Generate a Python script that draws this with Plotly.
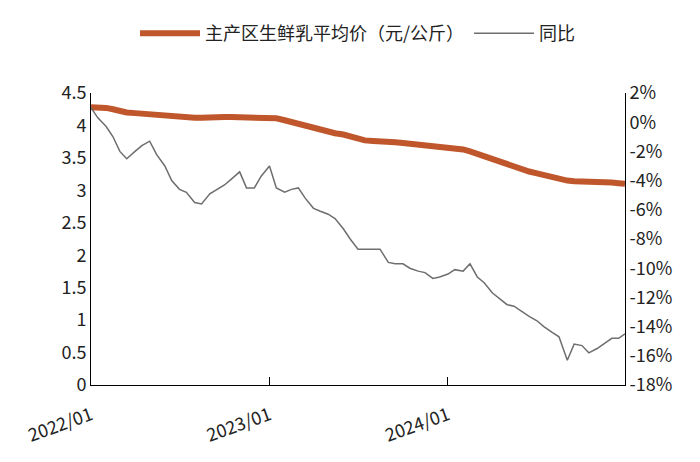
import pandas as pd
import plotly.graph_objects as go

# half-monthly sample dates
dates = pd.date_range("2022-01-01", periods=72, freq="SMS").tolist() + [pd.Timestamp("2024-12-28")]

# 主产区生鲜乳平均价 (元/公斤)
price = [4.28, 4.28, 4.27, 4.25, 4.22, 4.20, 4.19, 4.18, 4.17, 4.16,
         4.15, 4.14, 4.13, 4.13, 4.12, 4.12, 4.13, 4.13, 4.13, 4.13,
         4.13, 4.13, 4.12, 4.12, 4.12, 4.11, 4.08, 4.05, 4.02, 4.00,
         3.96, 3.93, 3.90, 3.88, 3.86, 3.83, 3.80, 3.77, 3.76, 3.76,
         3.75, 3.74, 3.73, 3.72, 3.71, 3.70, 3.69, 3.68, 3.66, 3.65,
         3.63, 3.60, 3.56, 3.52, 3.48, 3.44, 3.40, 3.36, 3.33, 3.29,
         3.26, 3.23, 3.21, 3.18, 3.15, 3.14, 3.14, 3.13, 3.13, 3.12,
         3.12, 3.11, 3.10]

# 同比 (%)
yoy = [1.0, 0.3, -0.3, -1.0, -2.0, -2.5, -2.0, -1.6, -1.3, -2.2,
       -3.0, -4.0, -4.6, -4.8, -5.5, -5.6, -4.9, -4.6, -4.3, -3.9,
       -3.4, -4.5, -4.5, -3.7, -3.0, -4.5, -4.8, -4.6, -4.5, -5.2,
       -5.9, -6.1, -6.3, -6.6, -7.3, -8.0, -8.7, -8.7, -8.7, -8.7,
       -9.6, -9.7, -9.7, -10.0, -10.2, -10.3, -10.7, -10.6, -10.4, -10.1,
       -10.2, -9.7, -10.6, -11.0, -11.7, -12.1, -12.5, -12.6, -13.0, -13.3,
       -13.6, -14.0, -14.4, -14.7, -16.3, -15.2, -15.3, -15.8, -15.5, -15.2,
       -14.8, -14.8, -14.5]

left_ticks = [0, 0.5, 1, 1.5, 2, 2.5, 3, 3.5, 4, 4.5]
right_ticks = list(range(-18, 3, 2))
x_ticks = ["2022-01-01", "2023-01-01", "2024-01-01"]
x_labels = ["2022/01", "2023/01", "2024/01"]

fig = go.Figure()
fig.add_trace(go.Scatter(x=dates, y=price, mode="lines", name="主产区生鲜乳平均价（元/公斤）",
                         line=dict(color="#C0562B", width=6)))
fig.add_trace(go.Scatter(x=dates, y=yoy, mode="lines", name="同比", yaxis="y2",
                         line=dict(color="#6E6E6E", width=1.5)))

font = dict(family="Noto Sans CJK SC, Arial", size=18, color="#222")
fig.update_layout(
    width=700, height=462, template="none", font=font,
    margin=dict(l=83, r=83, t=85, b=85, autoexpand=False),
    plot_bgcolor="white", paper_bgcolor="white",
    showlegend=True,
    legend=dict(orientation="h", x=0.5, xanchor="center", yref="container", y=0.985, yanchor="top",
                font=dict(size=18), itemwidth=60),
    xaxis=dict(range=["2022-01-01", "2024-12-28"], tickvals=x_ticks, ticktext=x_labels,
               tickangle=-20, showgrid=False, showline=True, linecolor="black",
               ticks="inside", ticklen=8, tickcolor="black", ticklabelstandoff=12),
    yaxis=dict(range=[0, 4.5], tickvals=left_ticks, showgrid=False, showline=True,
               linecolor="black", ticks="", zeroline=False),
    yaxis2=dict(range=[-18, 2], tickvals=right_ticks, ticktext=[f"{v}%" for v in right_ticks],
                overlaying="y", side="right", showgrid=False, showline=True,
                linecolor="black", ticks="", zeroline=False),
)
fig.write_html("out.html")
